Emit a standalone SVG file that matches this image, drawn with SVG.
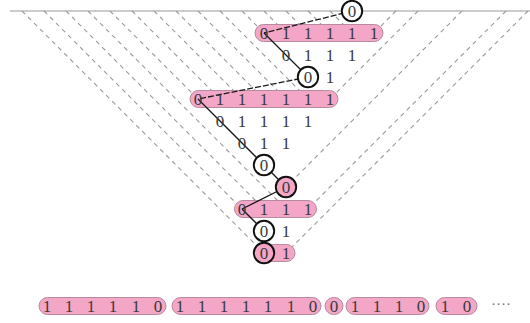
<svg xmlns="http://www.w3.org/2000/svg" width="530" height="323" viewBox="0 0 530 323">
<style>
.g{stroke:#9a9a9a;stroke-width:1.1;stroke-dasharray:4.5 4;fill:none}
.top{stroke:#9a9a9a;stroke-width:1.2}
.pill{fill:#f3a6c6;stroke:#b68aa0;stroke-width:1}
.c{fill:#fff;stroke:#111;stroke-width:1.9}
.cp{fill:#f3a6c6;stroke:#111;stroke-width:1.9}
.e{stroke:#1a1a1a;stroke-width:1.3;fill:none}
.ed{stroke:#1a1a1a;stroke-width:1.3;fill:none;stroke-dasharray:6 2}
text{font-family:"Liberation Serif","DejaVu Serif",serif;font-size:17px;fill:#3a3a3a;text-anchor:middle}
.dots{fill:#777;font-size:15px}
</style>
<rect width="530" height="323" fill="#fff"/>
<g id="guides">
<line class="top" x1="10" y1="11" x2="530" y2="11"/>
<line class="g" x1="22" y1="11" x2="264" y2="253"/>
<line class="g" x1="44" y1="11" x2="242" y2="209"/>
<line class="g" x1="66" y1="11" x2="264" y2="209"/>
<line class="g" x1="88" y1="11" x2="286" y2="209"/>
<line class="g" x1="110" y1="11" x2="198" y2="99"/>
<line class="g" x1="132" y1="11" x2="220" y2="99"/>
<line class="g" x1="154" y1="11" x2="242" y2="99"/>
<line class="g" x1="176" y1="11" x2="264" y2="99"/>
<line class="g" x1="198" y1="11" x2="286" y2="99"/>
<line class="g" x1="220" y1="11" x2="308" y2="99"/>
<line class="g" x1="242" y1="11" x2="264" y2="33"/>
<line class="g" x1="264" y1="11" x2="286" y2="33"/>
<line class="g" x1="286" y1="11" x2="308" y2="33"/>
<line class="g" x1="308" y1="11" x2="330" y2="33"/>
<line class="g" x1="330" y1="11" x2="352" y2="33"/>
<line class="g" x1="396" y1="11" x2="374" y2="33"/>
<line class="g" x1="418" y1="11" x2="330" y2="99"/>
<line class="g" x1="462" y1="11" x2="286" y2="187"/>
<line class="g" x1="506" y1="11" x2="308" y2="209"/>
<line class="g" x1="528" y1="11" x2="286" y2="253"/>
</g>
<g id="pills">
<rect id="row1" class="pill" x="255" y="24.5" width="128" height="17" rx="8.5"/>
<rect id="row4" class="pill" x="190" y="90.5" width="148" height="17" rx="8.5"/>
<rect id="row9" class="pill" x="234.5" y="200.5" width="82" height="17" rx="8.5"/>
<rect id="row11" class="pill" x="256" y="244.5" width="39" height="17" rx="8.5"/>
</g>
<g id="connectors">
<line class="ed" x1="352" y1="11" x2="264" y2="33"/>
<line class="e" x1="264" y1="33" x2="308" y2="77"/>
<line class="ed" x1="308" y1="77" x2="198" y2="99"/>
<line class="e" x1="198" y1="99" x2="286" y2="187"/>
<line class="e" x1="286" y1="187" x2="242" y2="209"/>
<line class="e" x1="242" y1="209" x2="264" y2="231"/>
<line class="e" x1="264" y1="231" x2="264" y2="253"/>
</g>
<g id="circles">
<circle id="n0" class="c" cx="352" cy="11" r="10.2"/>
<circle id="n3" class="c" cx="308" cy="77" r="10.2"/>
<circle id="n7" class="c" cx="264" cy="165" r="10.2"/>
<circle id="n8" class="cp" cx="286" cy="187" r="10.2"/>
<circle id="n10" class="c" cx="264" cy="231" r="10.2"/>
<circle id="n11" class="cp" cx="264" cy="253" r="10.2"/>
</g>
<g id="digits">
<text x="352" y="17">0</text>
<text x="264" y="39">0</text><text x="286" y="39">1</text><text x="308" y="39">1</text><text x="330" y="39">1</text><text x="352" y="39">1</text><text x="374" y="39">1</text>
<text x="286" y="61">0</text><text x="308" y="61">1</text><text x="330" y="61">1</text><text x="352" y="61">1</text>
<text x="308" y="83">0</text><text x="330" y="83">1</text>
<text x="198" y="105">0</text><text x="220" y="105">1</text><text x="242" y="105">1</text><text x="264" y="105">1</text><text x="286" y="105">1</text><text x="308" y="105">1</text><text x="330" y="105">1</text>
<text x="220" y="127">0</text><text x="242" y="127">1</text><text x="264" y="127">1</text><text x="286" y="127">1</text><text x="308" y="127">1</text>
<text x="242" y="149">0</text><text x="264" y="149">1</text><text x="286" y="149">1</text>
<text x="264" y="171">0</text>
<text x="286" y="193">0</text>
<text x="242" y="215">0</text><text x="264" y="215">1</text><text x="286" y="215">1</text><text x="308" y="215">1</text>
<text x="264" y="237">0</text><text x="286" y="237">1</text>
<text x="264" y="259">0</text><text x="286" y="259">1</text>
</g>
<g id="sequence">
<g id="b1"><rect class="pill" x="39" y="297.5" width="127" height="17" rx="8.5"/>
<text x="47" y="312">1</text><text x="69" y="312">1</text><text x="91" y="312">1</text><text x="113" y="312">1</text><text x="136" y="312">1</text><text x="158" y="312">0</text></g>
<g id="b2"><rect class="pill" x="172" y="297.5" width="149" height="17" rx="8.5"/>
<text x="180" y="312">1</text><text x="202" y="312">1</text><text x="224" y="312">1</text><text x="246" y="312">1</text><text x="268" y="312">1</text><text x="291" y="312">1</text><text x="313" y="312">0</text></g>
<g id="b3"><rect class="pill" x="325" y="297.5" width="18" height="17" rx="8.5"/>
<text x="334" y="312">0</text></g>
<g id="b4"><rect class="pill" x="346" y="297.5" width="83" height="17" rx="8.5"/>
<text x="355" y="312">1</text><text x="377" y="312">1</text><text x="399" y="312">1</text><text x="421" y="312">0</text></g>
<g id="b5"><rect class="pill" x="436" y="297.5" width="41" height="17" rx="8.5"/>
<text x="445" y="312">1</text><text x="467" y="312">0</text></g>
<text class="dots" x="501" y="309">····</text>
</g>
</svg>
